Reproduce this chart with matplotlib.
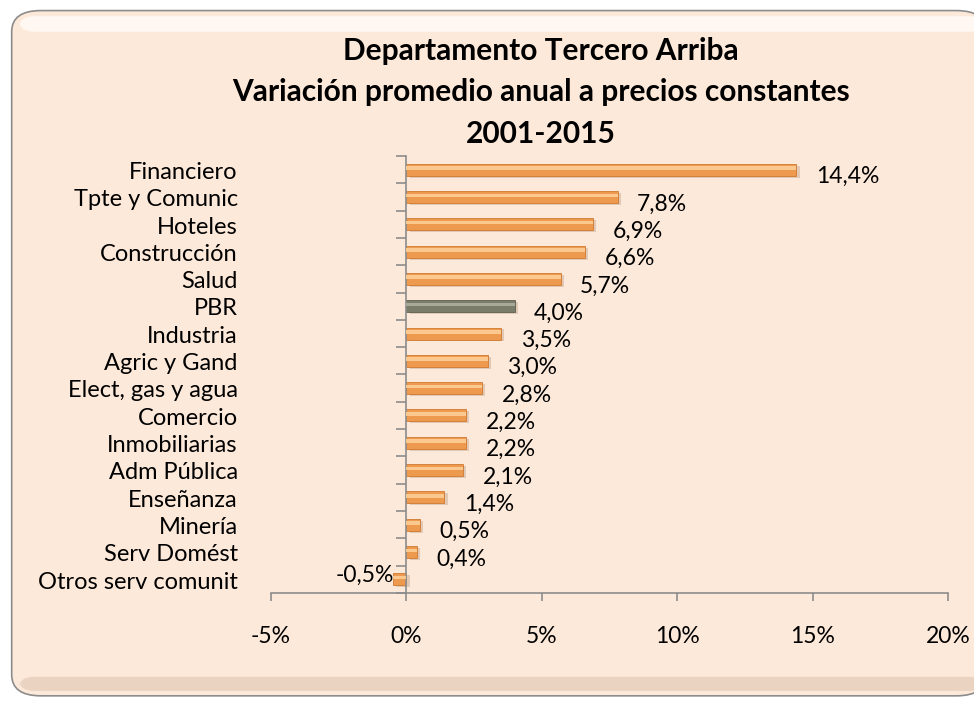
"""Variación promedio anual a precios constantes, Departamento Tercero Arriba."""

import matplotlib

matplotlib.use("Agg")
import matplotlib.pyplot as plt
from matplotlib.patches import FancyBboxPatch
from matplotlib.ticker import FuncFormatter, MultipleLocator

plt.rcParams["font.family"] = ["Lato", "DejaVu Sans"]

sectores = [
    "Financiero", "Tpte y Comunic", "Hoteles", "Construcción", "Salud", "PBR",
    "Industria", "Agric y Gand", "Elect, gas y agua", "Comercio", "Inmobiliarias",
    "Adm Pública", "Enseñanza", "Minería", "Serv Domést", "Otros serv comunit",
]
variacion = [14.4, 7.8, 6.9, 6.6, 5.7, 4.0, 3.5, 3.0, 2.8, 2.2, 2.2, 2.1, 1.4, 0.5, 0.4, -0.5]
destacado = "PBR"

titulo = "Departamento Tercero Arriba\nVariación promedio anual a precios constantes\n2001-2015"

fig = plt.figure(figsize=(9.74, 7.05), dpi=100, facecolor="white")

# rounded panel background with a soft bevel
panel = FancyBboxPatch((0.012, 0.013), 1.0, 0.972, boxstyle="round,pad=0,rounding_size=0.03",
                       transform=fig.transFigure, facecolor="#FDE9D9", edgecolor="#8C8C8C",
                       linewidth=1.2, zorder=0)
fig.patches.append(panel)
bevel_top = FancyBboxPatch((0.02, 0.955), 0.99, 0.022, boxstyle="round,pad=0,rounding_size=0.015",
                           transform=fig.transFigure, facecolor="#FFF8F2", edgecolor="none", zorder=0.5)
fig.patches.append(bevel_top)
bevel_bot = FancyBboxPatch((0.02, 0.02), 0.99, 0.02, boxstyle="round,pad=0,rounding_size=0.015",
                           transform=fig.transFigure, facecolor="#EBD3C2", edgecolor="none", zorder=0.5)
fig.patches.append(bevel_bot)

ax = fig.add_axes([0.2782, 0.1589, 0.6951, 0.6198])
ax.set_facecolor("none")
ax.set_zorder(2)

pos = list(range(len(sectores)))
colores = ["#7C7C6A" if s == destacado else "#EE9A4E" for s in sectores]
bordes = ["#5E5E50" if s == destacado else "#D07A32" for s in sectores]
brillos = ["#A9A999" if s == destacado else "#FBC890" for s in sectores]

# shadow, body and highlight of each bar
ax.barh([p + 0.07 for p in pos], variacion, height=0.44, left=0.12, color="#E2C9B6", zorder=1)
ax.barh(pos, variacion, height=0.44, color=colores, edgecolor=bordes, linewidth=0.6, zorder=2)
ax.barh([p - 0.06 for p in pos], variacion, height=0.13, color=brillos, zorder=3)

for p, v in zip(pos, variacion):
    etiqueta = f"{v:.1f}%".replace(".", ",")
    if v >= 0:
        ax.annotate(etiqueta, (v, p), xytext=(14, -5), textcoords="offset points",
                    ha="left", va="center", fontsize=16.5)
    else:
        ax.annotate(etiqueta, (v, p), xytext=(1, 3), textcoords="offset points",
                    ha="right", va="center", fontsize=16.5)

for p, s in zip(pos, sectores):
    ax.annotate(s, (-0.049, p), xycoords=ax.get_yaxis_transform(), xytext=(0, -2),
                textcoords="offset points", ha="right", va="center", fontsize=17)

ax.set_xlim(-5, 20)
ax.set_ylim(len(sectores) - 0.5, -0.5)
ax.xaxis.set_major_locator(MultipleLocator(5))
ax.xaxis.set_major_formatter(FuncFormatter(lambda x, _: f"{x:.0f}%"))
ax.tick_params(axis="x", direction="out", length=6, width=1.2, color="#8C8C8C", pad=18, labelsize=16.5)

ax.set_yticks([])
ax.set_yticks([p - 0.5 for p in pos] + [len(sectores) - 0.5], minor=True)
ax.tick_params(axis="y", which="minor", direction="out", length=7, width=1.2, color="#8C8C8C")

ax.spines["left"].set_position(("data", 0))
for side in ("left", "bottom"):
    ax.spines[side].set_color("#8C8C8C")
    ax.spines[side].set_linewidth(1.2)
for side in ("top", "right"):
    ax.spines[side].set_visible(False)

fig.text(0.555, 0.948, titulo, ha="center", va="top", fontsize=21.5, fontweight="bold",
         linespacing=1.6)

fig.savefig("out.png", dpi=100, facecolor="white")
